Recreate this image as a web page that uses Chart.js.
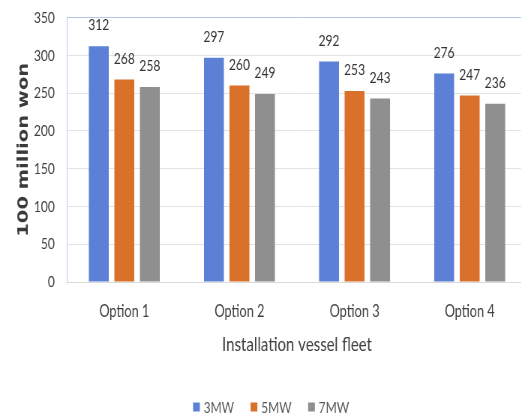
<!DOCTYPE html>
<html>
<head>
<meta charset="utf-8">
<script src="https://cdn.jsdelivr.net/npm/chart.js@4.4.0/dist/chart.umd.min.js"></script>
<style>
    html, body { margin: 0; padding: 0; background: #fff; overflow: hidden; }
    /* the source figure is squeezed sideways, so the chart is drawn wide and compressed */
    #wrap { position: relative; width: 713px; height: 418px; transform: scaleX(0.75); transform-origin: 0 0; }
</style>
</head>
<body>
<div id="wrap"><canvas id="cost-chart"></canvas></div>
<script>
const categories = ['Option 1', 'Option 2', 'Option 3', 'Option 4'];
const seriesNames = ['3MW', '5MW', '7MW'];
const values3MW = [312, 297, 292, 276];
const values5MW = [268, 260, 253, 247];
const values7MW = [258, 249, 243, 236];
const yTicks = [0, 50, 100, 150, 200, 250, 300, 350];

const FONT = "Lato, 'Open Sans', sans-serif";
const colors = ['#5b80d6', '#d9712b', '#8f8f8f'];

// value labels above every bar
const barLabels = {
    id: 'barLabels',
    afterDatasetsDraw(chart) {
        const ctx = chart.ctx;
        ctx.save();
        ctx.font = '16px ' + FONT;
        ctx.fillStyle = '#333333';
        ctx.textAlign = 'center';
        ctx.textBaseline = 'middle';
        chart.data.datasets.forEach((ds, i) => {
            chart.getDatasetMeta(i).data.forEach((bar, j) => {
                ctx.fillText(ds.data[j], bar.x, bar.y - 21);
            });
        });
        ctx.restore();
    }
};

// legend row at the bottom, Excel style
const bottomLegend = {
    id: 'bottomLegend',
    afterDraw(chart) {
        const ctx = chart.ctx;
        const box = 9, gap = 5, spacing = 22, y = 407;
        ctx.save();
        ctx.font = '16px ' + FONT;
        ctx.textBaseline = 'middle';
        const items = chart.data.datasets.map(ds => ({
            text: ds.label, color: ds.backgroundColor, w: ctx.measureText(ds.label).width
        }));
        const total = items.reduce((s, it) => s + box + gap + it.w, 0) + spacing * (items.length - 1);
        let x = chart.width / 2 - total / 2 + 5;
        items.forEach(it => {
            ctx.fillStyle = it.color;
            ctx.fillRect(x, y - box / 2, box, box);
            ctx.fillStyle = '#595959';
            ctx.fillText(it.text, x + box + gap, y + 1);
            x += box + gap + it.w + spacing;
        });
        ctx.restore();
    }
};

const canvas = document.getElementById('cost-chart');

new Chart(canvas, {
    type: 'bar',
    data: {
        labels: categories,
        datasets: [
            { label: seriesNames[0], data: values3MW, backgroundColor: colors[0] },
            { label: seriesNames[1], data: values5MW, backgroundColor: colors[1] },
            { label: seriesNames[2], data: values7MW, backgroundColor: colors[2] }
        ]
    },
    options: {
        responsive: true,
        maintainAspectRatio: false,
        animation: false,
        layout: { padding: { top: 0, left: 0, right: 10, bottom: 0 } },
        datasets: {
            bar: { categoryPercentage: 0.665, barPercentage: 0.78 }
        },
        plugins: {
            legend: { display: false },
            tooltip: { enabled: false }
        },
        scales: {
            x: {
                grid: { display: false, drawTicks: false },
                border: { color: '#d9d9d9' },
                ticks: { color: '#404040', padding: 19, font: { family: FONT, size: 17 } },
                title: {
                    display: true,
                    text: 'Installation vessel fleet',
                    color: '#404040',
                    font: { family: FONT, size: 20 },
                    padding: { top: 0, bottom: 61 }
                },
                afterFit: scale => { scale.height = 136; }
            },
            y: {
                min: 0,
                max: 350,
                afterBuildTicks: scale => { scale.ticks = yTicks.map(v => ({ value: v })); },
                grid: {
                    drawTicks: true,
                    tickLength: 8,
                    tickColor: 'rgba(0,0,0,0)',
                    color: c => (c.tick && c.tick.value === 350 ? '#b4c6e7' : '#e3e3e3')
                },
                border: { color: '#b4c6e7' },
                ticks: { color: '#404040', padding: 8, font: { family: FONT, size: 16 } },
                title: {
                    display: true,
                    text: '100 million won',
                    color: '#3a3a3a',
                    font: { family: "'DejaVu Sans', sans-serif", size: 19.5, weight: 'bold' },
                    padding: { top: 20, bottom: 0 }
                },
                afterFit: scale => { scale.width = 89; }
            }
        }
    },
    plugins: [barLabels, bottomLegend]
});
</script>
</body>
</html>
